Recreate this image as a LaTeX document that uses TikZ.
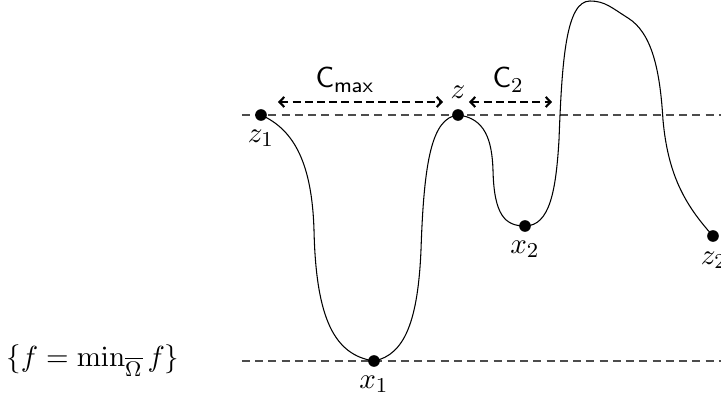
\documentclass[tikz,border=0pt]{standalone}
\usetikzlibrary{arrows.meta,positioning}
\begin{document}
\begin{tikzpicture}[x=0.3774pt,y=-0.3774pt,
  every node/.style={font=\fontsize{11}{13}\selectfont},
  dot/.style={circle,fill=black,inner sep=0pt,minimum size=4.4pt},
  lvl/.style={black!70,dash pattern=on 3pt off 2pt,line width=0.4pt},
  gap/.style={dash pattern=on 3pt off 1.6pt,line width=0.8pt,{Straight Barb[length=1.8pt,width=3.8pt]}-{Straight Barb[length=1.8pt,width=3.8pt]}},
  curve/.style={line width=0.4pt}]
\clip (0,0) rectangle (721,400);
% level lines
\coordinate (u0) at (242,115); \coordinate (u1) at (730,115);
\coordinate (l0) at (242,361); \coordinate (l1) at (730,361);
\draw[lvl] (u0) -- (u1);
\draw[lvl] (l0) -- (l1);
% dots
\node[dot] (z1) at (261,115) {};
\node[dot] (z) at (458,115) {};
\node[dot] (x1) at (374,361) {};
\node[dot] (x2) at (525,226) {};
\node[dot] (z2) at (713,236) {};
% curve
\draw[curve] (z1.center) .. controls (295,130) and (312,165) .. (314,230)
  .. controls (316,320) and (335,355) .. (x1.center)
  .. controls (405,355) and (418,320) .. (421,250)
  .. controls (424,160) and (432,118) .. (z.center)
  .. controls (485,118) and (492,140) .. (493,170)
  .. controls (494,215) and (505,226) .. (x2.center)
  .. controls (550,226) and (556,190) .. (559,140)
  .. controls (562,60) and (566,1) .. (590,1)
  .. controls (605,1) and (612,8) .. (628,18)
  .. controls (652,33) and (660,70) .. (663,120)
  .. controls (668,175) and (685,205) .. (z2.center);
% labels
\node[below=2pt of z1,inner sep=1pt] (lz1) {$z_1$};
\node[above=2.5pt of z,inner sep=1pt] (lz) {$z$};
\node[below=2pt of x1,inner sep=1pt] (lx1) {$x_1$};
\node[below=2pt of x2,inner sep=1pt] (lx2) {$x_2$};
\node[below right=3pt and -7.5pt of z2,inner sep=1pt] (lz2) {$z_2$};
\node[anchor=east,inner sep=0pt] (lev) at (180,361) {$\{f=\min_{\overline{\Omega}} f\}$};
% gaps
\coordinate (a0) at (278,102); \coordinate (a1) at (443,102);
\coordinate (b0) at (469,102); \coordinate (b1) at (552,102);
\draw[gap] (a0) -- (a1);
\draw[gap] (b0) -- (b1);
\node[anchor=base west,inner sep=0pt] (cmax) at (315,88) {$\mathsf{C}_{\mathsf{max}}$};
\node[anchor=base west,inner sep=0pt] (c2) at (492,88) {$\mathsf{C}_{2}$};
\end{tikzpicture}
\end{document}
